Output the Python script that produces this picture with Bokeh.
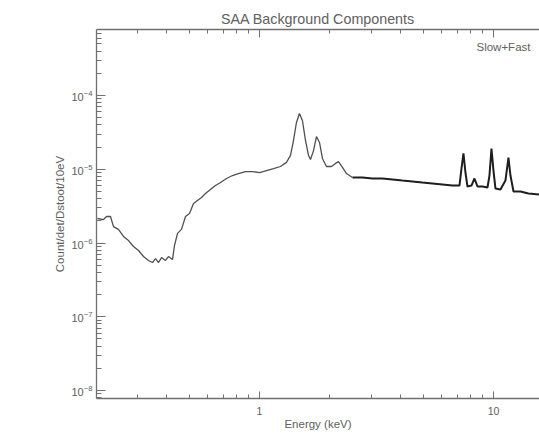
from bokeh.plotting import figure
from bokeh.models import (Range1d, LogAxis, FixedTicker, CustomJSTickFormatter,
                          Label, LogTickFormatter)
from bokeh.embed import file_html
from bokeh.resources import INLINE

# Background spectrum: energy (keV) and counts per 10 eV bin
energy = [
    0.203, 0.2154, 0.222, 0.2308, 0.2377, 0.2496, 0.2623, 0.2756, 0.2894, 0.3041,
    0.3194, 0.3355, 0.3488, 0.3594, 0.3703, 0.3815, 0.3963, 0.4084, 0.4248, 0.4333,
    0.4463, 0.4642, 0.4828, 0.5022, 0.5224, 0.5433, 0.5651, 0.5877, 0.6172, 0.6486,
    0.6813, 0.7228, 0.7667, 0.8132, 0.8713, 0.9335, 1.0, 1.071, 1.148, 1.229,
    1.304, 1.357, 1.397, 1.439, 1.482, 1.526, 1.573, 1.620, 1.652, 1.702,
    1.752, 1.805, 1.858, 1.933, 2.031, 2.112, 2.176, 2.263, 2.354, 2.497,
    2.755, 3.041, 3.355, 3.702, 4.084, 4.506, 4.972, 5.486, 6.054, 6.679,
    7.157, 7.298, 7.443, 7.590, 7.743, 8.054, 8.294, 8.545, 8.974, 9.427,
    9.614, 9.806, 10.0, 10.20, 10.71, 11.25, 11.59, 11.82, 12.18, 13.05,
    14.11, 15.73,
]
counts = [
    2.15e-6, 2.08e-6, 2.29e-6, 2.29e-6, 1.67e-6, 1.53e-6, 1.23e-6, 1.08e-6, 8.97e-7, 7.91e-7,
    6.56e-7, 5.80e-7, 5.44e-7, 6.16e-7, 5.44e-7, 6.35e-7, 5.80e-7, 6.56e-7, 5.97e-7, 9.25e-7,
    1.35e-6, 1.53e-6, 2.29e-6, 2.51e-6, 3.43e-6, 3.77e-6, 4.14e-6, 4.69e-6, 5.31e-6, 6.02e-6,
    6.61e-6, 7.49e-6, 8.22e-6, 8.75e-6, 9.31e-6, 9.31e-6, 9.03e-6, 9.61e-6, 1.02e-5, 1.09e-5,
    1.24e-5, 1.54e-5, 2.45e-5, 4.31e-5, 5.70e-5, 4.58e-5, 2.45e-5, 1.54e-5, 1.36e-5, 1.79e-5,
    2.78e-5, 2.31e-5, 1.40e-5, 1.09e-5, 1.09e-5, 1.20e-5, 1.27e-5, 1.06e-5, 8.75e-6, 7.73e-6,
    7.73e-6, 7.50e-6, 7.50e-6, 7.26e-6, 7.03e-6, 6.82e-6, 6.61e-6, 6.41e-6, 6.21e-6, 6.02e-6,
    6.02e-6, 1.02e-5, 1.64e-5, 9.04e-6, 5.84e-6, 6.02e-6, 7.50e-6, 5.84e-6, 5.84e-6, 5.66e-6,
    8.22e-6, 1.91e-5, 9.61e-6, 5.48e-6, 5.31e-6, 7.03e-6, 1.44e-5, 8.22e-6, 4.99e-6, 4.99e-6,
    4.69e-6, 4.55e-6,
]

x_major = [0.1, 1, 10, 100]
x_minor = [0.2, 0.3, 0.4, 0.5, 0.6, 0.7, 0.8, 0.9,
           2, 3, 4, 5, 6, 7, 8, 9, 20, 30]
y_major = [1e-8, 1e-7, 1e-6, 1e-5, 1e-4, 1e-3]
y_minor = [m * 10.0 ** e for e in range(-9, -3) for m in range(2, 10)]

FONT = "Liberation Sans"
AXIS_GREY = "#707070"
TEXT_GREY = "#606060"

p = figure(width=539, height=439, x_axis_type="log", y_axis_type="log",
           x_range=Range1d(0.2011, 15.73), y_range=Range1d(7.8e-9, 7.85e-4),
           output_backend="svg", toolbar_location=None,
           title="SAA Background Components",
           min_border_left=96, min_border_right=0, min_border_top=29,
           min_border_bottom=41)

p.outline_line_color = None
p.grid.visible = False
p.background_fill_color = "white"
p.border_fill_color = "white"

p.title.align = "center"
p.title.text_font = FONT
p.title.text_font_size = "14.3px"
p.title.text_font_style = "normal"
p.title.text_color = TEXT_GREY
p.title.offset = 0
p.title.standoff = 5

# bottom axis
xa = p.xaxis[0]
xa.ticker = FixedTicker(ticks=x_major, minor_ticks=x_minor)
xa.formatter = CustomJSTickFormatter(code="return tick >= 1 ? tick.toFixed(0) : tick.toString();")
xa.axis_label = "Energy (keV)"

# left axis
ya = p.yaxis[0]
ya.ticker = FixedTicker(ticks=y_major, minor_ticks=y_minor)
ya.formatter = LogTickFormatter()
ya.axis_label = "Count/det/Dstoot/10eV"

# top axis with ticks only; its labels are drawn invisibly
top = LogAxis(ticker=FixedTicker(ticks=x_major, minor_ticks=x_minor),
              major_label_text_font_size="1px", major_label_text_alpha=0,
              major_label_standoff=0)
p.add_layout(top, "above")

for ax in (xa, ya, top):
    ax.axis_line_color = AXIS_GREY
    ax.axis_line_width = 1.3
    ax.major_tick_line_color = AXIS_GREY
    ax.minor_tick_line_color = AXIS_GREY
    ax.major_tick_out = 0
    ax.minor_tick_out = 0
    ax.major_label_text_font = FONT
    ax.axis_label_text_font = FONT
    ax.axis_label_text_color = TEXT_GREY
    ax.axis_label_text_font_style = "normal"
    ax.axis_label_text_font_size = "11.5px"

for ax in (xa, ya):
    ax.major_label_text_color = TEXT_GREY

xa.major_tick_in = 7
xa.minor_tick_in = 4
xa.major_label_text_font_size = "10.5px"
xa.major_label_standoff = 8
xa.axis_label_standoff = 0

top.major_tick_in = 8
top.minor_tick_in = 4

ya.major_tick_in = 9
ya.minor_tick_in = 5
ya.major_label_text_font_size = "11px"
ya.major_label_standoff = 4
ya.axis_label_standoff = 2

# spectrum: soft part thin grey, hard part darker
split = 59
p.line(energy[:split + 1], counts[:split + 1], line_color="#505050", line_width=1.3)
p.line(energy[split:], counts[split:], line_color="#1e1e1e", line_width=2.0)

p.add_layout(Label(x=8.46, y=4.6e-4, text="Slow+Fast", text_font=FONT,
                   text_font_size="11.5px", text_color=TEXT_GREY,
                   text_baseline="middle"))

open("out.html", "w").write(file_html(p, INLINE))
